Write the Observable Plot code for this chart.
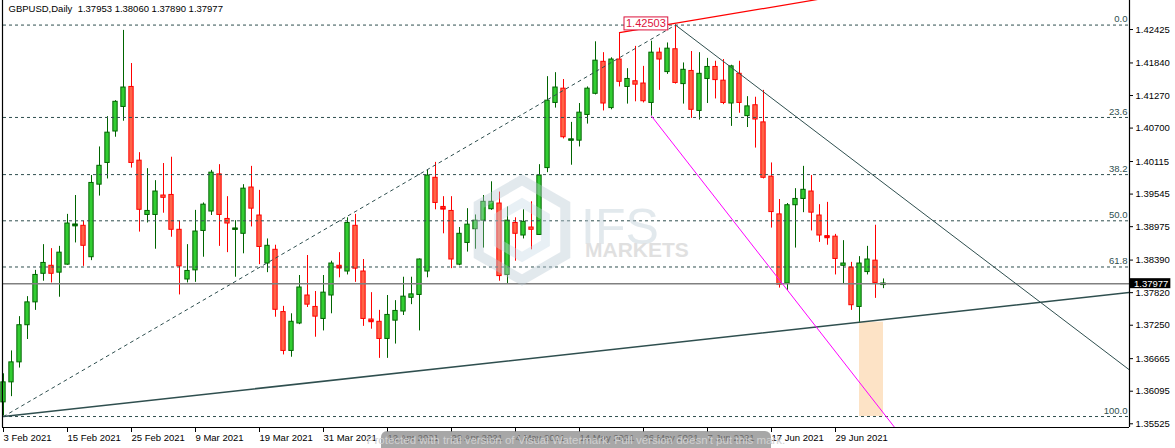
<!DOCTYPE html>
<html><head><meta charset="utf-8">
<script src="https://cdn.jsdelivr.net/npm/d3@7"></script>
<script src="https://cdn.jsdelivr.net/npm/@observablehq/plot@0.6"></script>
<style>
html,body{margin:0;padding:0;background:#fff;}
#chart{width:1175px;height:448px;overflow:hidden;}
</style></head><body><div id="chart"></div>
<script>
// ---- data: GBPUSD daily bars, index 0 = 3 Feb 2021 ----
const opens = [1.3590,1.3625,1.3660,1.3725,1.3765,1.3815,1.3829,1.3817,1.3831,1.3898,
1.3899,1.3844,1.3971,1.4009,1.4064,1.4107,1.4142,1.4013,1.3918,1.3918,
1.3952,1.3953,1.3892,1.3805,1.3821,1.3890,1.3924,1.3989,1.3911,1.3892,
1.3885,1.3966,1.3917,1.3833,1.3857,1.3748,1.3680,1.3728,1.3777,1.3757,
1.3736,1.3777,1.3829,1.3819,1.3899,1.3819,1.3735,1.3731,1.3701,1.3733,
1.3749,1.3773,1.3778,1.3819,1.3983,1.3932,1.3925,1.3831,1.3869,1.3893,
1.3908,1.3928,1.3938,1.3813,1.3904,1.3882,1.3896,1.3883,1.4000,1.4114,
1.4139,1.4048,1.4048,1.4093,1.4130,1.4186,1.4105,1.4190,1.4142,1.4152,
1.4148,1.4114,1.4202,1.4168,1.4208,1.4147,1.4170,1.4100,1.4156,1.4177,
1.4153,1.4113,1.4165,1.4091,1.4110,1.4080,1.3985,1.3919,1.3798,1.3935,
1.3946,1.3959,1.3917,1.3881,1.3880,1.3829,1.3826,1.3757,1.3818,1.3838,1.37953];
const highs = [1.3640,1.3680,1.3740,1.3775,1.3821,1.3866,1.3859,1.3863,1.3919,1.3952,
1.3907,1.3987,1.4037,1.4090,1.4118,1.4241,1.4183,1.4027,1.3999,1.3978,
1.4008,1.4019,1.3907,1.3866,1.3926,1.3939,1.3996,1.4006,1.3950,1.3908,
1.3971,1.4003,1.3961,1.3876,1.3865,1.3758,1.3745,1.3812,1.3847,1.3784,
1.3812,1.3837,1.3852,1.3913,1.3919,1.3840,1.3782,1.3751,1.3777,1.3768,
1.3809,1.3809,1.3841,1.3996,1.4010,1.3950,1.3950,1.3896,1.3929,1.3918,
1.3952,1.3976,1.3958,1.3932,1.3913,1.3927,1.3941,1.4006,1.4160,1.4167,
1.4155,1.4080,1.4113,1.4142,1.4221,1.4202,1.4193,1.4237,1.4174,1.4213,
1.4178,1.4222,1.4210,1.4219,1.42503,1.4184,1.4204,1.4202,1.4192,1.4187,
1.4190,1.4180,1.4187,1.4125,1.4124,1.4136,1.4009,1.3945,1.3938,1.3964,
1.4003,1.3987,1.3936,1.3940,1.3884,1.3873,1.3835,1.3845,1.3863,1.3900,1.38060];
const lows = [1.3566,1.3600,1.3650,1.3700,1.3751,1.3802,1.3799,1.3774,1.3830,1.3869,
1.3828,1.3838,1.3951,1.3981,1.4054,1.4082,1.4000,1.3888,1.3904,1.3858,
1.3921,1.3879,1.3778,1.3799,1.3800,1.3844,1.3917,1.3863,1.3852,1.3809,
1.3850,1.3897,1.3831,1.3817,1.3739,1.3673,1.3669,1.3726,1.3756,1.3704,
1.3715,1.3745,1.3808,1.3813,1.3800,1.3723,1.3718,1.3667,1.3667,1.3692,
1.3742,1.3761,1.3715,1.3808,1.3927,1.3885,1.3824,1.3829,1.3853,1.3858,
1.3860,1.3926,1.3802,1.3798,1.3837,1.3876,1.3857,1.3882,1.3992,1.4105,
1.4051,1.4005,1.4037,1.4077,1.4128,1.4100,1.4102,1.4142,1.4112,1.4116,
1.4114,1.4091,1.4136,1.4164,1.4147,1.4112,1.4087,1.4084,1.4113,1.4121,
1.4111,1.4073,1.4096,1.4071,1.4035,1.3981,1.3895,1.3790,1.3786,1.3860,
1.3922,1.3890,1.3870,1.3865,1.3813,1.3798,1.3751,1.3730,1.3813,1.3772,1.37890];
const closes = [1.3625,1.3660,1.3725,1.3765,1.3813,1.3834,1.3815,1.3852,1.3903,1.3901,
1.3864,1.3974,1.4004,1.4062,1.4116,1.4141,1.4009,1.3927,1.3925,1.3959,
1.3948,1.3892,1.3828,1.3820,1.3889,1.3936,1.3992,1.3918,1.3903,1.3894,
1.3964,1.3929,1.3862,1.3864,1.3752,1.3680,1.3731,1.3791,1.3761,1.3740,
1.3782,1.3833,1.3826,1.3904,1.3824,1.3736,1.3732,1.3701,1.3743,1.3750,
1.3775,1.3779,1.3840,1.3987,1.3939,1.3929,1.3840,1.3885,1.3901,1.3908,
1.3941,1.3941,1.3811,1.3908,1.3885,1.3906,1.3892,1.3987,1.4118,1.4141,
1.4054,1.4050,1.4097,1.4139,1.4188,1.4113,1.4190,1.4151,1.4156,1.4146,
1.4117,1.4202,1.4190,1.4209,1.4149,1.4172,1.4102,1.4165,1.4177,1.4154,
1.4114,1.4178,1.4114,1.4108,1.4085,1.3983,1.3923,1.3796,1.3935,1.3946,
1.3962,1.3922,1.3882,1.3879,1.3841,1.3833,1.3760,1.3833,1.3840,1.3799,1.37977];

const tickIdx = [0,8,16,24,32,40,48,56,64,72,80,88,96,104];
const tickLabels = ["3 Feb 2021","15 Feb 2021","25 Feb 2021","9 Mar 2021","19 Mar 2021","31 Mar 2021",
"12 Apr 2021","22 Apr 2021","4 May 2021","14 May 2021","26 May 2021","7 Jun 2021","17 Jun 2021","29 Jun 2021"];
const priceTicks = [1.42425,1.41840,1.41270,1.40700,1.40115,1.39545,1.38975,1.38390,1.37820,1.37250,1.36665,1.36095,1.35525];

const quoteSymbol = "GBPUSD,Daily";
const quoteOHLC = [1.37953,1.38060,1.37890,1.37977];

const fibLevels = [0,23.6,38.2,50,61.8,100];
const fibAnchorLow = {k:0, p:1.35652};
const fibAnchorHigh = {k:84, p:1.42503};
const supportLine = [{k:0,p:1.35652},{k:107,p:1.37303}];
const resistLine = [{k:84,p:1.42503},{k:140.75,p:1.36467}];
const magentaLine = [{k:81,p:1.4091},{k:111.4,p:1.3546}];
const redLine = [{k:77,p:1.4237},{k:100,p:1.4291}];
const zone = {k1:107,k2:110,p1:1.37303,p2:1.35652};
const peakLabel = "1.42503";
const watermarkTop = "IFS", watermarkBottom = "MARKETS";
const trialText = "Protected with trial version of Visual Watermark. Full version doesn't put this mark.";

// ---- build ----
const FONT = "'Liberation Sans', Arial, sans-serif";
const xMin=-0.125, xMax=140.75, yMin=1.35460, yMax=1.42933;
const UP_FILL="#32cd32", UP_LINE="#006400", DN_FILL="#ff6347", DN_LINE="#ff0000", SLATE="#2f4f4f";
const candles = opens.map((o,i)=>({k:i,open:o,high:highs[i],low:lows[i],close:closes[i]}));
const up = d => d.close >= d.open;
const fibs = fibLevels.map(l=>({level:l, price: fibAnchorHigh.p-(fibAnchorHigh.p-fibAnchorLow.p)*l/100}));
const ext = (seg,k) => seg[0].p + (seg[1].p-seg[0].p)*(k-seg[0].k)/(seg[1].k-seg[0].k);
const ray = seg => [seg[0], {k:xMax, p:ext(seg,xMax)}];
const labelMap = new Map(tickIdx.map((k,i)=>[k,tickLabels[i]]));
const dojis = candles.filter(d=>Math.abs(d.open-d.close)<0.00035);

const plot = Plot.plot({
  width:1175, height:448, marginLeft:2, marginRight:46, marginTop:0, marginBottom:21,
  x:{type:"linear", domain:[xMin,xMax]},
  y:{type:"linear", domain:[yMin,yMax]},
  color:{type:"identity"},
  style:{fontFamily:FONT, fontSize:"9.5px", background:"#fff", overflow:"visible"},
  marks:[
    Plot.rect([zone],{x1:"k1",x2:"k2",y1:"p1",y2:"p2",fill:"#fde3c6"}),
    Plot.ruleX(candles,{x:"k",y1:"low",y2:"high",stroke:d=>up(d)?UP_LINE:DN_LINE,strokeWidth:1}),
    Plot.rect(candles,{x1:d=>d.k-0.27,x2:d=>d.k+0.27,y1:"open",y2:"close",fill:d=>up(d)?UP_FILL:DN_FILL,stroke:d=>up(d)?UP_LINE:DN_LINE,strokeWidth:1}),
    Plot.ruleY(dojis,{y:"close",x1:d=>d.k-0.33,x2:d=>d.k+0.33,stroke:d=>up(d)?UP_LINE:DN_LINE,strokeWidth:2}),
    Plot.ruleY(fibs,{y:"price",x1:fibAnchorLow.k,x2:xMax,stroke:SLATE,strokeDasharray:"3,3",strokeWidth:1}),
    Plot.text(fibs,{x:xMax,y:"price",text:d=>d.level.toFixed(1),textAnchor:"end",dx:-2,dy:-6,fill:SLATE}),
    Plot.line([fibAnchorLow,fibAnchorHigh],{x:"k",y:"p",stroke:SLATE,strokeDasharray:"3,4",strokeWidth:1}),
    Plot.ruleY([quoteOHLC[3]],{stroke:"#808080",strokeWidth:1.4}),
    Plot.line(ray(supportLine),{x:"k",y:"p",stroke:SLATE,strokeWidth:1.6,clip:true}),
    Plot.line(resistLine,{x:"k",y:"p",stroke:SLATE,strokeWidth:1,clip:true}),
    Plot.line(magentaLine,{x:"k",y:"p",stroke:"#ff00ff",strokeWidth:1,clip:true}),
    Plot.line(ray(redLine),{x:"k",y:"p",stroke:"#ff0000",strokeWidth:1.2,clip:true}),
    Plot.ruleX([xMin,xMax],{stroke:"#000",strokeWidth:1.2}),
    Plot.ruleY([yMin],{stroke:"#000",strokeWidth:1.2}),
    Plot.axisY({anchor:"right",ticks:priceTicks,tickFormat:d=>d.toFixed(5),tickSize:3,tickPadding:3,fill:"#000"}),
    Plot.axisX({anchor:"bottom",ticks:tickIdx,tickFormat:d=>labelMap.get(d),tickSize:5,tickPadding:2,textAnchor:"start",dx:0,fill:"#000"}),
    Plot.text([quoteSymbol+"  "+quoteOHLC.map(v=>v.toFixed(5)).join(" ")],{frameAnchor:"top-left",dx:6,dy:5,text:d=>d,fill:"#000"})
  ]
});
document.getElementById("chart").appendChild(plot);

const xs = plot.scale("x"), ys = plot.scale("y");
const svg = d3.select(plot);

// watermark logo (centre of chart)
const wm = svg.append("g").attr("opacity",0.4).attr("pointer-events","none").attr("text-anchor","start").attr("font-family",FONT);
const hex = (cx,cy,r) => d3.range(6).map(i=>{const a=Math.PI/3*i-Math.PI/2; return [cx+r*Math.cos(a),cy+r*Math.sin(a)];});
wm.append("polygon").attr("points",hex(522,230,50).join(" ")).attr("fill","none").attr("stroke","#b9c9d4").attr("stroke-width",10);
wm.append("polygon").attr("points",hex(522,230,27).join(" ")).attr("fill","none").attr("stroke","#c6dbe8").attr("stroke-width",9);
wm.append("text").attr("x",581).attr("y",244).attr("font-size",50).attr("fill","#b9c9d4").text(watermarkTop);
wm.append("text").attr("x",585).attr("y",257).attr("font-size",21).attr("font-weight","bold").attr("fill","#b4b4b4").text(watermarkBottom);

// peak price label
const px = xs.apply(77)+4, py = ys.apply(fibAnchorHigh.p)-1;
const lg = svg.append("g").attr("text-anchor","start");
const lt = lg.append("text").attr("x",px+3).attr("y",py).attr("dy","0.35em").attr("font-size",11).attr("fill","#dc143c").text(peakLabel);
const bb = lt.node().getBBox();
lg.insert("rect","text").attr("x",bb.x-2).attr("y",bb.y-0.5).attr("width",bb.width+4).attr("height",bb.height+1).attr("fill","#fff").attr("stroke","#dc143c").attr("stroke-width",1);

// current price tag
const cy = ys.apply(quoteOHLC[3]);
const tg = svg.append("g").attr("text-anchor","start");
const tt = tg.append("text").attr("x",1134).attr("y",cy).attr("dy","0.35em").attr("fill","#fff").text(quoteOHLC[3].toFixed(5));
const tb = tt.node().getBBox();
tg.insert("rect","text").attr("x",1130).attr("y",cy-5).attr("width",tb.width+6).attr("height",10).attr("fill","#000");

// bottom trial watermark bar
const bar = svg.append("g").attr("text-anchor","middle");
bar.append("rect").attr("x",381).attr("y",431).attr("width",390).attr("height",24).attr("rx",6).attr("fill","#8a8a8a").attr("opacity",0.75);
bar.append("text").attr("x",576).attr("y",444).attr("font-size",11.5).attr("fill","#d0d0d0").text(trialText);
</script></body></html>
